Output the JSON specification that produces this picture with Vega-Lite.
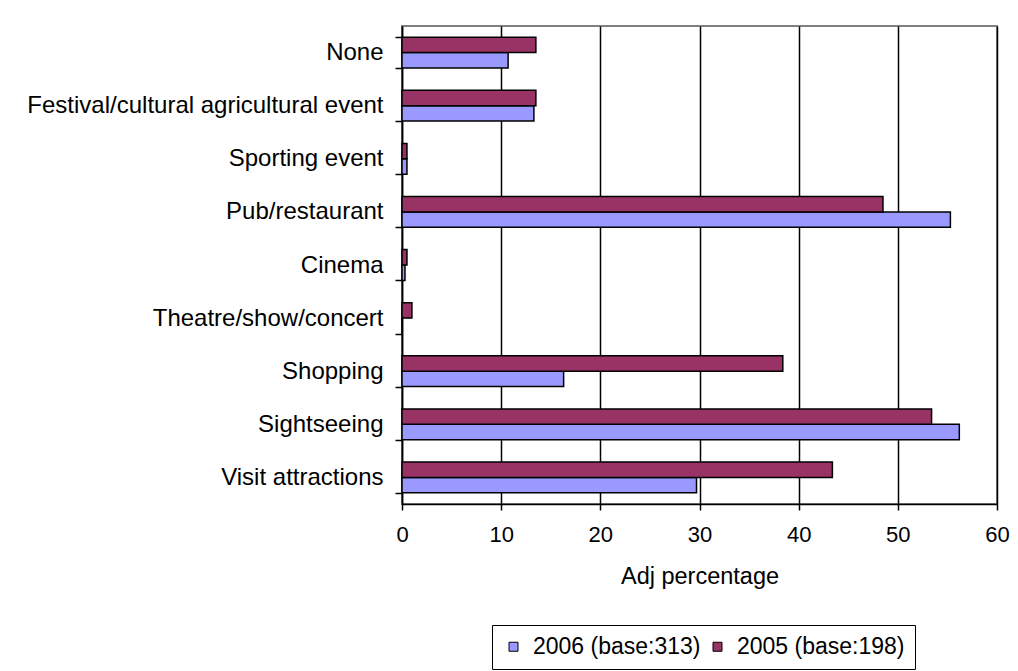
{
  "$schema": "https://vega.github.io/schema/vega-lite/v6.json",
  "autosize": {"type": "none"},
  "width": 595,
  "height": 478,
  "padding": {"left": 402, "top": 26, "right": 21, "bottom": 167},
  "background": "white",
  "config": {
    "font": "Liberation Sans",
    "view": {"stroke": "#808080", "strokeWidth": 2}
  },
  "data": {
    "values": [
      {"activity": "None", "series": "2006 (base:313)", "pct": 10.7},
      {"activity": "None", "series": "2005 (base:198)", "pct": 13.5},
      {"activity": "Festival/cultural agricultural event", "series": "2006 (base:313)", "pct": 13.3},
      {"activity": "Festival/cultural agricultural event", "series": "2005 (base:198)", "pct": 13.5},
      {"activity": "Sporting event", "series": "2006 (base:313)", "pct": 0.5},
      {"activity": "Sporting event", "series": "2005 (base:198)", "pct": 0.5},
      {"activity": "Pub/restaurant", "series": "2006 (base:313)", "pct": 55.3},
      {"activity": "Pub/restaurant", "series": "2005 (base:198)", "pct": 48.5},
      {"activity": "Cinema", "series": "2006 (base:313)", "pct": 0.3},
      {"activity": "Cinema", "series": "2005 (base:198)", "pct": 0.5},
      {"activity": "Theatre/show/concert", "series": "2006 (base:313)", "pct": 0},
      {"activity": "Theatre/show/concert", "series": "2005 (base:198)", "pct": 1.0},
      {"activity": "Shopping", "series": "2006 (base:313)", "pct": 16.3},
      {"activity": "Shopping", "series": "2005 (base:198)", "pct": 38.4},
      {"activity": "Sightseeing", "series": "2006 (base:313)", "pct": 56.2},
      {"activity": "Sightseeing", "series": "2005 (base:198)", "pct": 53.4},
      {"activity": "Visit attractions", "series": "2006 (base:313)", "pct": 29.7},
      {"activity": "Visit attractions", "series": "2005 (base:198)", "pct": 43.4}
    ]
  },
  "mark": {"type": "bar", "stroke": "black", "strokeWidth": 1.5, "cornerRadius": 0},
  "encoding": {
    "y": {
      "field": "activity",
      "type": "nominal",
      "sort": ["None", "Festival/cultural agricultural event", "Sporting event", "Pub/restaurant", "Cinema", "Theatre/show/concert", "Shopping", "Sightseeing", "Visit attractions"],
      "scale": {"paddingInner": 0.42, "paddingOuter": 0.21},
      "axis": {
        "title": null,
        "labelFontSize": 24,
        "labelLimit": 0,
        "labelColor": "black",
        "labelPadding": 12,
        "tickSize": 7,
        "tickColor": "black",
        "tickBand": "extent",
        "domainColor": "black",
        "domainWidth": 1.5,
        "tickWidth": 1.5
      }
    },
    "yOffset": {
      "field": "series",
      "type": "nominal",
      "scale": {"domain": ["2005 (base:198)", "2006 (base:313)"], "paddingInner": 0, "paddingOuter": 0}
    },
    "x": {
      "field": "pct",
      "type": "quantitative",
      "scale": {"domain": [0, 60], "nice": false},
      "axis": {
        "title": "Adj percentage",
        "titleFontSize": 23.5,
        "titleFontWeight": "normal",
        "titleColor": "black",
        "titlePadding": 19,
        "values": [0, 10, 20, 30, 40, 50, 60],
        "labelFontSize": 22,
        "labelColor": "black",
        "labelPadding": 14,
        "tickSize": 6,
        "tickColor": "black",
        "tickWidth": 1.5,
        "domainColor": "black",
        "domainWidth": 1.5,
        "grid": true,
        "gridColor": "black",
        "gridWidth": 1.5,
        "labelFlush": false
      }
    },
    "color": {
      "field": "series",
      "type": "nominal",
      "scale": {"domain": ["2006 (base:313)", "2005 (base:198)"], "range": ["#9999FF", "#993366"]},
      "legend": {
        "title": null,
        "orient": "none",
        "direction": "horizontal",
        "legendX": 90,
        "legendY": 599,
        "labelFontSize": 23,
        "labelLimit": 0,
        "labelColor": "black",
        "symbolType": "square",
        "symbolSize": 81,
        "symbolStrokeColor": "black",
        "symbolStrokeWidth": 1,
        "symbolOpacity": 1,
        "strokeColor": "black",
        "padding": 10,
        "columnPadding": 5,
        "labelOffset": 8,
        "fillColor": "white"
      }
    }
  }
}
